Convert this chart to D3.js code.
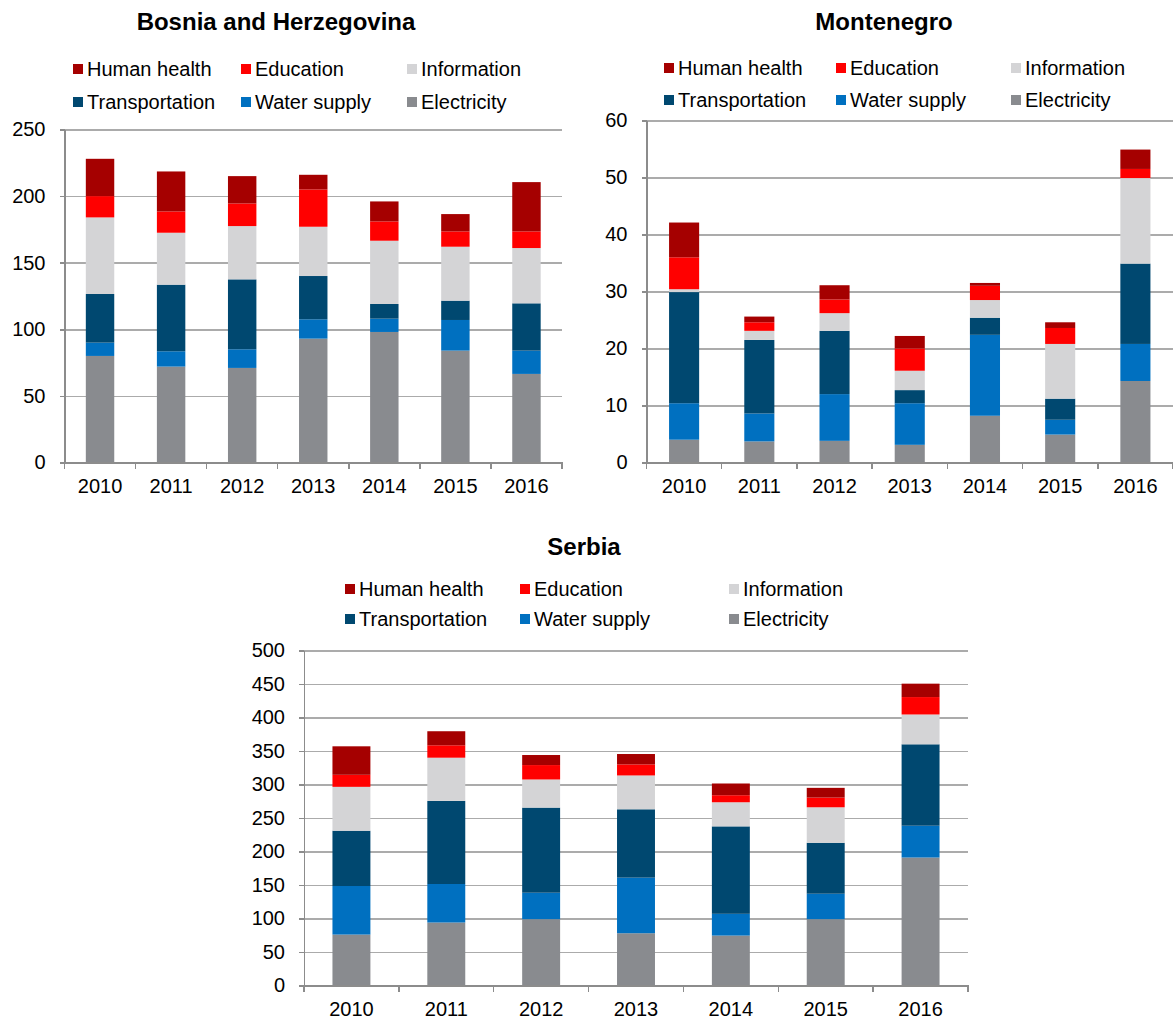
<!DOCTYPE html>
<html lang="en">
    <head>
        <meta charset="utf-8">
        <title>Stacked bars: BiH, Montenegro, Serbia</title>
        <script type="text/javascript" src="https://cdn.jsdelivr.net/npm/d3@7/dist/d3.min.js"></script>
        <style type="text/css">
            body { margin: 0; background: #fff; }
            svg { display: block; font-family: "Liberation Sans", Arial, sans-serif; }
            .axis path, .axis line { fill: none; stroke: #8c8c8c; stroke-width: 1.5; shape-rendering: crispEdges; }
            .grid line { stroke: #ababab; stroke-width: 1.5; shape-rendering: crispEdges; }
            .grid path { display: none; }
            .axis text { font-size: 20px; fill: #000; }
            .legend text { font-size: 20px; fill: #000; }
            .title { font-size: 24px; font-weight: bold; }
        </style>
    </head>
    <body>
        <script type="text/javascript">

            // Categories
            var years = ["2010", "2011", "2012", "2013", "2014", "2015", "2016"];

            // Stack order, bottom to top
            var sectors = ["Electricity", "Water supply", "Transportation", "Information", "Education", "Human health"];
            var colors = ["#898b8f", "#0070c0", "#004870", "#d4d4d6", "#ff0000", "#a50000"];

            // Legend order (row by row)
            var legendOrder = ["Human health", "Education", "Information", "Transportation", "Water supply", "Electricity"];

            // Bosnia and Herzegovina
            var bihElectricity   = [80, 72, 71, 93, 98, 84, 66.5];
            var bihWater         = [10, 11.5, 14, 14.5, 10, 23, 17.5];
            var bihTransport     = [36.5, 50, 52.5, 32.5, 11, 14.5, 35.5];
            var bihInformation   = [57.5, 39, 40, 37, 47.5, 40.5, 41.5];
            var bihEducation     = [16, 16, 17, 28, 14.5, 11.5, 12.5];
            var bihHealth        = [28, 30, 20.5, 11, 15, 13, 37];
            var bihTicks = [0, 50, 100, 150, 200, 250];

            // Montenegro
            var mneElectricity   = [4, 3.7, 3.8, 3.1, 8.2, 4.9, 14.3];
            var mneWater         = [6.4, 4.9, 8.2, 7.3, 14.2, 2.6, 6.5];
            var mneTransport     = [19.5, 12.9, 11.1, 2.3, 3.0, 3.7, 14.1];
            var mneInformation   = [0.5, 1.6, 3.1, 3.4, 3.1, 9.6, 15.0];
            var mneEducation     = [5.6, 1.5, 2.4, 3.9, 2.5, 2.8, 1.6];
            var mneHealth        = [6.1, 1.0, 2.5, 2.2, 0.5, 1.0, 3.4];
            var mneTicks = [0, 10, 20, 30, 40, 50, 60];

            // Serbia
            var srbElectricity   = [76, 94, 99, 78, 74.5, 99, 191];
            var srbWater         = [72.5, 57.5, 39.5, 83, 32.5, 38, 47.5];
            var srbTransport     = [82.5, 124, 127, 102, 130.5, 76, 121.5];
            var srbInformation   = [65.5, 64.5, 42, 50.5, 36, 53, 44.5];
            var srbEducation     = [18, 18.5, 21.5, 16.5, 10.5, 14.5, 26];
            var srbHealth        = [42.5, 21, 15, 15.5, 17.5, 14.5, 20];
            var srbTicks = [0, 50, 100, 150, 200, 250, 300, 350, 400, 450, 500];

            var w = 1173;
            var h = 1021;

            var svg = d3.select("body")
                        .append("svg")
                        .attr("width", w)
                        .attr("height", h);

            var color = d3.scaleOrdinal().domain(sectors).range(colors);

            function rows(series) {
                return years.map(function(y, i) {
                    var r = { year: y };
                    sectors.forEach(function(s, j) { r[s] = series[j][i]; });
                    return r;
                });
            }

            var panels = [
                { title: "Bosnia and Herzegovina", titleX: 276, titleY: 30,
                  series: [bihElectricity, bihWater, bihTransport, bihInformation, bihEducation, bihHealth],
                  ticks: bihTicks, left: 64.5, right: 562, top: 129.5, bottom: 462.5,
                  legendX: [73, 241, 407], legendY: [69, 102] },
                { title: "Montenegro", titleX: 884, titleY: 30,
                  series: [mneElectricity, mneWater, mneTransport, mneInformation, mneEducation, mneHealth],
                  ticks: mneTicks, left: 646.5, right: 1173, top: 120.5, bottom: 462.5,
                  legendX: [664, 836, 1011], legendY: [68, 100] },
                { title: "Serbia", titleX: 584, titleY: 555,
                  series: [srbElectricity, srbWater, srbTransport, srbInformation, srbEducation, srbHealth],
                  ticks: srbTicks, left: 304, right: 968, top: 650.5, bottom: 985.5,
                  legendX: [345, 520, 729], legendY: [589, 619] }
            ];

            panels.forEach(function(p) {
                var data = rows(p.series);
                var stacked = d3.stack().keys(sectors)(data);

                var xScale = d3.scaleBand()
                               .domain(years)
                               .range([p.left, p.right])
                               .paddingInner(0.6)
                               .paddingOuter(0.3);

                var xBounds = d3.scaleBand()
                                .domain(years)
                                .range([p.left, p.right]);

                var yScale = d3.scaleLinear()
                               .domain([0, d3.max(p.ticks)])
                               .range([p.bottom, p.top]);

                // Title
                svg.append("text")
                   .attr("class", "title")
                   .attr("x", p.titleX)
                   .attr("y", p.titleY)
                   .attr("text-anchor", "middle")
                   .text(p.title);

                // Legend
                var leg = svg.append("g").attr("class", "legend");
                legendOrder.forEach(function(s, i) {
                    var lx = p.legendX[i % 3];
                    var ly = p.legendY[Math.floor(i / 3)];
                    leg.append("rect")
                       .attr("x", lx)
                       .attr("y", ly - 5)
                       .attr("width", 10)
                       .attr("height", 10)
                       .attr("fill", color(s));
                    leg.append("text")
                       .attr("x", lx + 14)
                       .attr("y", ly + 7)
                       .text(s);
                });

                // Gridlines
                svg.append("g")
                   .attr("class", "grid")
                   .attr("transform", "translate(" + p.left + ",0)")
                   .call(d3.axisLeft(yScale)
                           .tickValues(p.ticks.slice(1))
                           .tickSize(-(p.right - p.left))
                           .tickFormat(""));

                // Bars
                svg.append("g")
                   .selectAll("g")
                   .data(stacked)
                   .enter()
                   .append("g")
                   .attr("fill", function(d) { return color(d.key); })
                   .selectAll("rect")
                   .data(function(d) { return d; })
                   .enter()
                   .append("rect")
                   .attr("x", function(d) { return xScale(d.data.year); })
                   .attr("width", xScale.bandwidth())
                   .attr("y", function(d) { return yScale(d[1]); })
                   .attr("height", function(d) { return yScale(d[0]) - yScale(d[1]); });

                // Y axis
                svg.append("g")
                   .attr("class", "axis")
                   .attr("transform", "translate(" + p.left + ",0)")
                   .call(d3.axisLeft(yScale)
                           .tickValues(p.ticks)
                           .tickSize(5)
                           .tickSizeOuter(0)
                           .tickPadding(14));

                // X axis
                var xAxisG = svg.append("g")
                   .attr("class", "axis")
                   .attr("transform", "translate(0," + p.bottom + ")")
                   .call(d3.axisBottom(xScale)
                           .tickSize(0)
                           .tickSizeOuter(0)
                           .tickPadding(12));
                xAxisG.selectAll(".tick text").attr("dy", "0.9em");

                // Tick marks on band boundaries
                xAxisG.selectAll("line.bound")
                   .data(years.concat(["end"]))
                   .enter()
                   .append("line")
                   .attr("class", "bound")
                   .attr("x1", function(d) { return d === "end" ? p.right : xBounds(d); })
                   .attr("x2", function(d) { return d === "end" ? p.right : xBounds(d); })
                   .attr("y1", 0)
                   .attr("y2", 6);
            });

        </script>
    </body>
</html>
